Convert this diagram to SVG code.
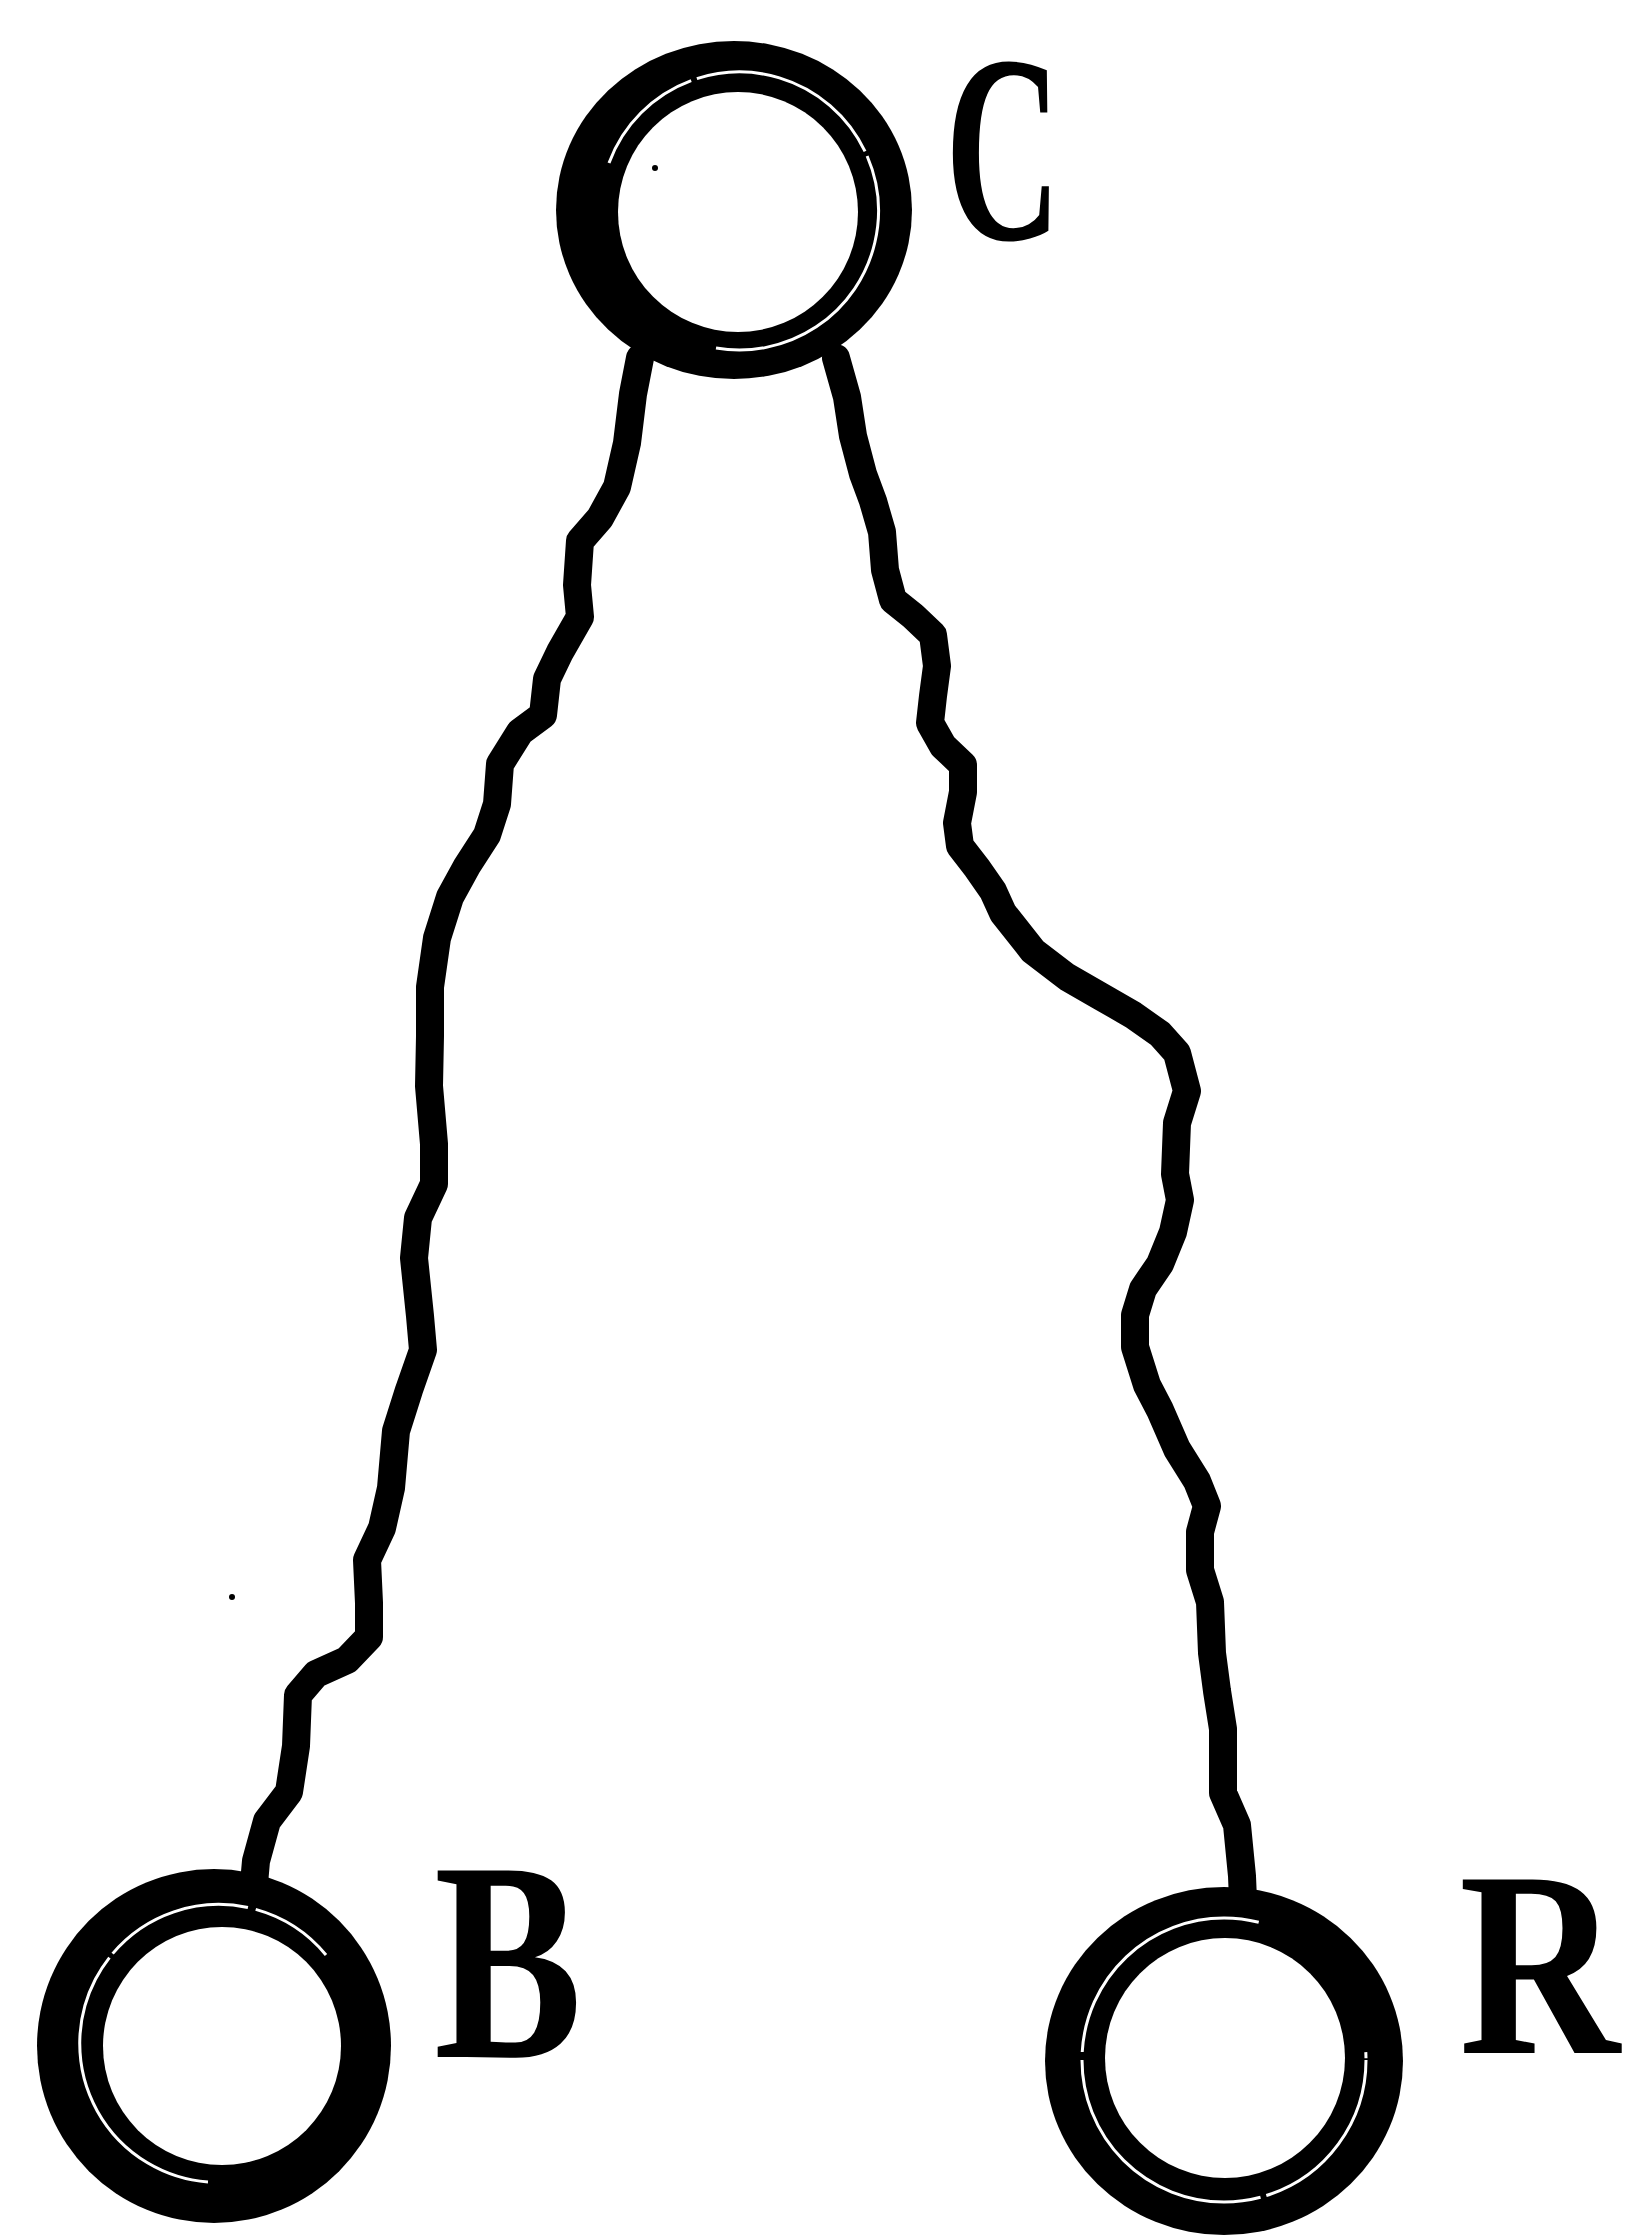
<svg xmlns="http://www.w3.org/2000/svg" width="1631" height="2239" viewBox="0 0 1631 2239">
<style>
.wire{fill:none;stroke:#000;stroke-width:28;stroke-linejoin:round;stroke-linecap:round}
.ring{fill:#000}
.hole{fill:#fff}
.gap{fill:none;stroke:#fff;stroke-width:3}
.lbl{font-family:"Liberation Serif","Times New Roman",serif;font-weight:bold;fill:#000}
.speck{fill:#000}
</style>
<rect width="1631" height="2239" fill="#fff"/>
<g id="connectors">
<polyline id="C-B" class="wire" points="640,358 633,394 627,443 617,487 600,518 580,541 577,585 580,617 560,652 547,679 543,715 520,732 500,764 497,804 487,835 467,866 450,897 437,938 430,987 430,1036 429,1086 434,1144 434,1184 418,1218 414,1258 420,1316 423,1350 409,1390 396,1431 391,1488 382,1528 367,1560 369,1603 369,1637 347,1660 316,1674 298,1695 296,1746 289,1792 267,1821 256,1861 253,1895"/>
<polyline id="C-R" class="wire" points="836,358 847,397 853,436 863,474 873,501 882,532 885,570 893,600 913,616 933,635 937,666 933,696 930,723 943,746 963,765 963,792 957,823 960,846 977,868 993,891 1003,913 1033,951 1067,977 1100,996 1133,1015 1160,1034 1177,1053 1187,1091 1177,1123 1175,1174 1180,1200 1173,1232 1160,1264 1143,1289 1135,1315 1135,1347 1147,1385 1160,1410 1177,1449 1197,1481 1207,1506 1200,1532 1200,1570 1210,1602 1212,1653 1217,1691 1223,1729 1223,1793 1237,1825 1242,1876 1243,1900"/>
</g>
<g id="node-C">
<ellipse class="ring" cx="734" cy="210" rx="178" ry="169"/>
<path class="gap" d="M609,163 A139,139 0 1 1 716,348" stroke-dasharray="120 6 200 5 400"/>
<circle class="hole" cx="738" cy="212" r="120"/>
<circle class="speck" cx="655" cy="168" r="3"/>
<text class="lbl" transform="translate(945,239) scale(0.6,1)" x="0" y="0" font-size="268">C</text>
</g>
<g id="node-B">
<ellipse class="ring" cx="214" cy="2046" rx="177" ry="177"/>
<path class="gap" d="M208,2182 A139,139 0 1 1 326,1955" stroke-dasharray="300 5 150 8 300"/>
<circle class="hole" cx="222" cy="2046" r="119"/>
<text class="lbl" transform="translate(434,2057) scale(0.78,1)" x="0" y="0" font-size="285">B</text>
</g>
<g id="node-R">
<ellipse class="ring" cx="1224" cy="2061" rx="179" ry="174"/>
<circle class="gap" cx="1224" cy="2060" r="142" stroke-dasharray="180 6 260 8 250"/>
<circle class="hole" cx="1225" cy="2058" r="120"/>
<text class="lbl" transform="translate(1459,2053) scale(0.84,1)" x="0" y="0" font-size="265">R</text>
</g>
<circle class="speck" cx="232" cy="1597" r="3"/>
</svg>
